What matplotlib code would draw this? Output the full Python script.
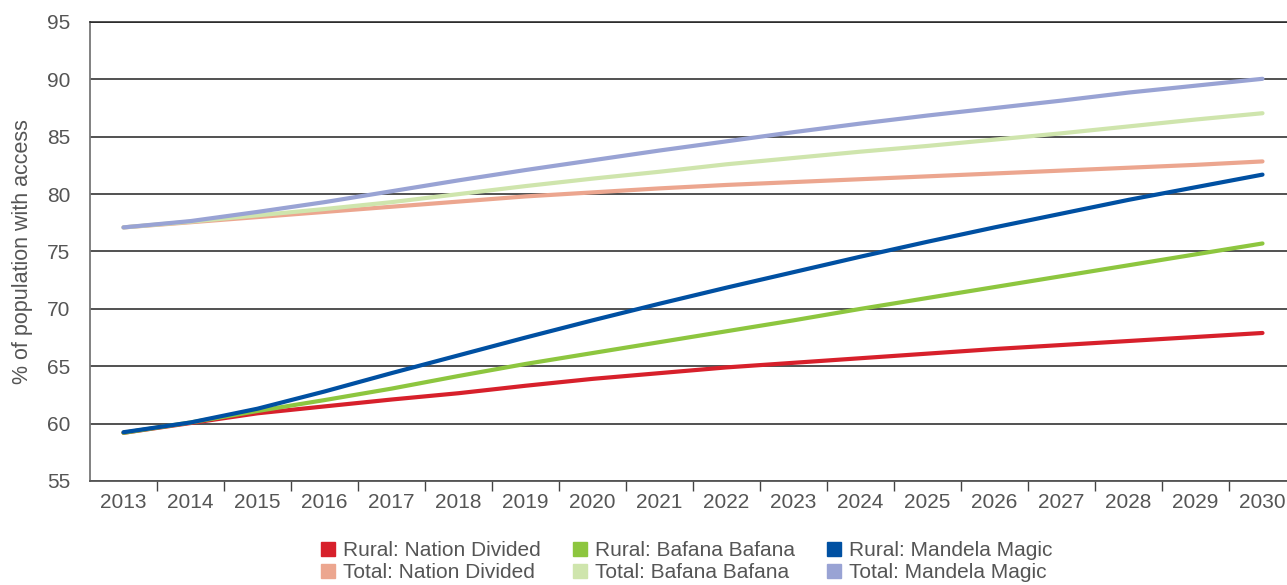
import numpy as np
import matplotlib
matplotlib.use("Agg")
import matplotlib.pyplot as plt
from matplotlib.lines import Line2D

years = [str(y) for y in range(2013, 2031)]

rural_nation_divided = [59.2, 60.05, 60.9, 61.5, 62.1, 62.65, 63.3, 63.9, 64.4,
                        64.9, 65.3, 65.7, 66.1, 66.5, 66.85, 67.2, 67.55, 67.9]
rural_bafana_bafana = [59.2, 60.1, 61.1, 62.05, 63.05, 64.15, 65.2, 66.15, 67.1,
                       68.05, 69.0, 70.0, 70.95, 71.9, 72.85, 73.8, 74.75, 75.7]
rural_mandela_magic = [59.25, 60.1, 61.3, 62.8, 64.4, 65.95, 67.5, 69.0, 70.45,
                       71.85, 73.2, 74.55, 75.85, 77.1, 78.3, 79.5, 80.6, 81.7]
total_nation_divided = [77.1, 77.55, 78.0, 78.45, 78.9, 79.35, 79.8, 80.15, 80.5,
                        80.8, 81.05, 81.3, 81.55, 81.8, 82.05, 82.3, 82.55, 82.85]
total_bafana_bafana = [77.1, 77.6, 78.15, 78.7, 79.3, 80.0, 80.7, 81.35, 81.95,
                       82.6, 83.15, 83.7, 84.2, 84.75, 85.3, 85.9, 86.5, 87.05]
total_mandela_magic = [77.1, 77.65, 78.45, 79.3, 80.25, 81.2, 82.1, 82.95, 83.8,
                       84.6, 85.4, 86.15, 86.85, 87.5, 88.15, 88.85, 89.45, 90.05]

series = [
    ("Rural: Nation Divided", rural_nation_divided, "#d7202b"),
    ("Total: Nation Divided", total_nation_divided, "#eca68f"),
    ("Rural: Bafana Bafana", rural_bafana_bafana, "#8dc63f"),
    ("Total: Bafana Bafana", total_bafana_bafana, "#cfe5ad"),
    ("Rural: Mandela Magic", rural_mandela_magic, "#0050a2"),
    ("Total: Mandela Magic", total_mandela_magic, "#99a3d4"),
]
draw_order = [1, 3, 5, 0, 2, 4]

plt.rcParams["font.family"] = ["Liberation Sans", "DejaVu Sans"]
text_col = "#555555"

W, H = 1287, 585
fig = plt.figure(figsize=(W / 100, H / 100), dpi=100)
ax = fig.add_axes([90 / W, (H - 481) / H, 1206 / W, 459 / H])

x = np.arange(len(years))
for i in draw_order:
    label, vals, col = series[i]
    ax.plot(x, vals, color=col, lw=3, solid_capstyle="round", zorder=3)

ax.set_xlim(-0.5, len(years) - 0.5)
ax.set_ylim(55, 95)
ax.set_yticks(range(55, 96, 5))
ax.set_xticks(x)
ax.set_xticklabels(years)
ax.set_xticks(np.arange(0.5, len(years) - 1, 1), minor=True)
ax.tick_params(axis="x", which="major", length=0, pad=9, labelsize=15, labelcolor=text_col)
ax.tick_params(axis="x", which="minor", length=7, width=1, color="#444444", direction="out")
ax.tick_params(axis="y", length=0, pad=14, labelsize=15, labelcolor=text_col)

ax.yaxis.grid(True, color="#222222", lw=1.1)
ax.set_axisbelow(True)
ax.spines["right"].set_visible(False)
ax.spines["top"].set_color("#222222")
ax.spines["top"].set_linewidth(1.1)
ax.spines["left"].set_color("#777777")
ax.spines["left"].set_linewidth(1.3)
ax.spines["bottom"].set_color("#555555")
ax.spines["bottom"].set_linewidth(1.3)

ax.set_ylabel("% of population with access", fontsize=15.5, color=text_col, labelpad=10)

handles = [Line2D([], [], marker="s", ls="none", markersize=10, color=c) for _, _, c in series]
labels = [s[0] for s in series]
fig.legend(handles, labels, ncol=3, loc="upper center", bbox_to_anchor=(686 / W, 1 - 531 / H),
           frameon=False, fontsize=15, labelcolor=text_col, handlelength=0.8,
           handletextpad=0.3, columnspacing=1.5, labelspacing=0.12, borderpad=0)

fig.savefig("out.png", dpi=100)
